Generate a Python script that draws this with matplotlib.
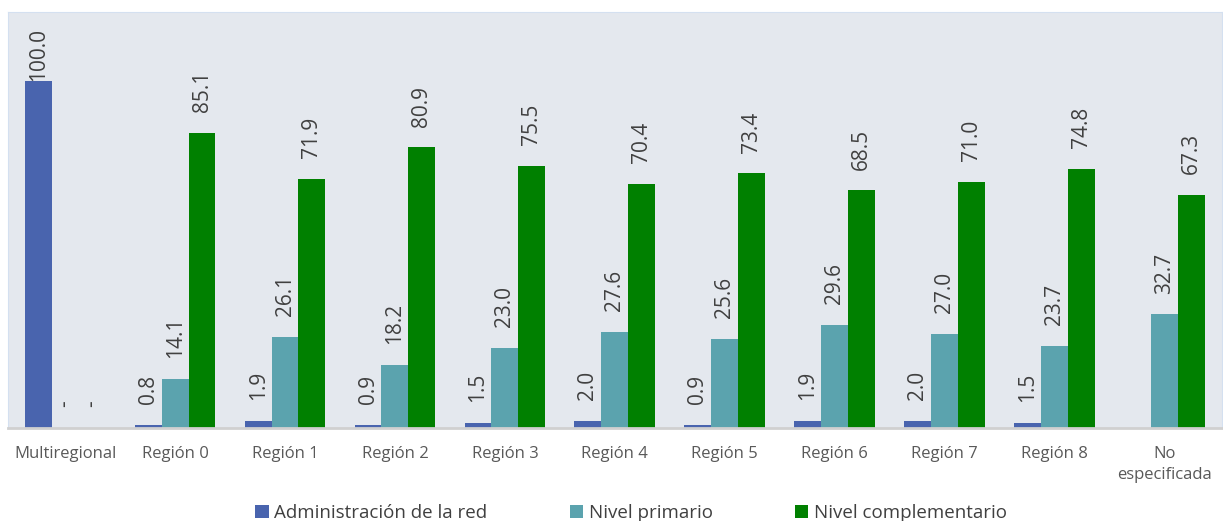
import numpy as np
import matplotlib.pyplot as plt

plt.rcParams['font.family'] = ['Open Sans', 'DejaVu Sans']

# datos
categorias = ['Multiregional', 'Región 0', 'Región 1', 'Región 2', 'Región 3', 'Región 4',
              'Región 5', 'Región 6', 'Región 7', 'Región 8', 'No\nespecificada']
admin = [100.0, 0.8, 1.9, 0.9, 1.5, 2.0, 0.9, 1.9, 2.0, 1.5, np.nan]
primario = [0.0, 14.1, 26.1, 18.2, 23.0, 27.6, 25.6, 29.6, 27.0, 23.7, 32.7]
complementario = [0.0, 85.1, 71.9, 80.9, 75.5, 70.4, 73.4, 68.5, 71.0, 74.8, 67.3]
series = ['Administración de la red', 'Nivel primario', 'Nivel complementario']
colores = ['#4964AE', '#5BA3AE', '#008000']

fig = plt.figure(figsize=(12.23, 5.21), dpi=100)
ax = fig.add_axes([0.0065, 0.179, 0.9925, 0.798])
ax.set_facecolor('#E4E8EE')

x = np.arange(len(categorias))
w = 0.245
ymax = 120

for i, (vals, nom, col) in enumerate(zip([admin, primario, complementario], series, colores)):
    pos = x + (i - 1) * w
    v = np.nan_to_num(np.array(vals, dtype=float))
    ax.bar(pos, v, w, color=col, label=nom, zorder=2)
    for p, val in zip(pos, vals):
        if np.isnan(val):
            continue
        txt = '-' if val == 0 else f'{val:.1f}'
        off = 15 if val < 95 else 0  # la etiqueta del 100 no cabe arriba
        ax.annotate(txt, (p, val), xytext=(0, off), textcoords='offset points',
                    rotation=90, ha='center', va='bottom', fontsize=15, color='#404040')

ax.set_xlim(-0.52, len(categorias) - 0.48)
ax.set_ylim(0, ymax)
ax.set_yticks([])
ax.set_xticks(x)
ax.set_xticklabels(categorias, fontsize=12, color='#595959', linespacing=1.45)
ax.tick_params(axis='x', length=0, pad=13)
for s in ['top', 'left', 'right']:
    ax.spines[s].set_color('#D4E0F0')
ax.spines['bottom'].set_color('#D0D0D0')
ax.spines['bottom'].set_linewidth(2)

fig.legend(loc='lower center', bbox_to_anchor=(0.516, -0.035), ncol=3, frameon=False,
           fontsize=13.5, handlelength=0.7, handleheight=0.7, handletextpad=0.3,
           columnspacing=4.4, labelcolor='#404040')

fig.savefig('out.png', dpi=100)
